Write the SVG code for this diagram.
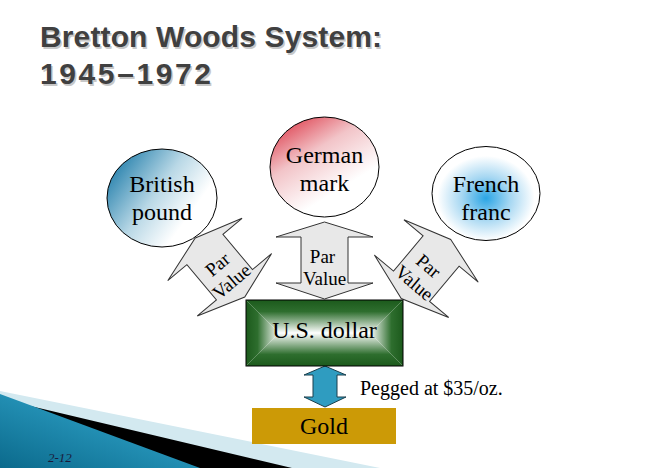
<svg xmlns="http://www.w3.org/2000/svg" width="648" height="468" viewBox="0 0 648 468">
  <defs>
    <style>
      .title { font-family: "Liberation Sans", Arial, sans-serif; font-weight: bold; font-size: 30px; }
      .node { font-family: "Liberation Serif", "Times New Roman", serif; font-size: 24px; fill: #000; text-anchor: middle; }
      .lbl { font-family: "Liberation Serif", "Times New Roman", serif; font-size: 19px; fill: #000; text-anchor: middle; }
      .ell { stroke: #000; stroke-width: 1; }
      .par { fill: #e8e8e8; stroke: #333; stroke-width: 1; }
    </style>
    <linearGradient id="gBrit" x1="0" y1="0.3" x2="0.7" y2="0.75">
      <stop offset="0" stop-color="#2f86b0"/>
      <stop offset="0.55" stop-color="#b9d8e6"/>
      <stop offset="1" stop-color="#ffffff"/>
    </linearGradient>
    <linearGradient id="gGer" x1="0.1" y1="0" x2="0.6" y2="0.75">
      <stop offset="0" stop-color="#dc3444"/>
      <stop offset="0.5" stop-color="#f2c4c8"/>
      <stop offset="1" stop-color="#ffffff"/>
    </linearGradient>
    <radialGradient id="gFr" cx="0.5" cy="0.55" r="0.5">
      <stop offset="0" stop-color="#2aa5e5"/>
      <stop offset="0.45" stop-color="#a6d7f2"/>
      <stop offset="0.9" stop-color="#ffffff"/>
    </radialGradient>
    <linearGradient id="gTop" gradientUnits="userSpaceOnUse" x1="0" y1="300" x2="0" y2="333">
      <stop offset="0" stop-color="#1c5a1c"/>
      <stop offset="0.35" stop-color="#2e6e2e"/>
      <stop offset="1" stop-color="#ffffff"/>
    </linearGradient>
    <linearGradient id="gBot" gradientUnits="userSpaceOnUse" x1="0" y1="366" x2="0" y2="333">
      <stop offset="0" stop-color="#1c5a1c"/>
      <stop offset="0.35" stop-color="#2e6e2e"/>
      <stop offset="1" stop-color="#ffffff"/>
    </linearGradient>
    <linearGradient id="gLeft" gradientUnits="userSpaceOnUse" x1="246" y1="0" x2="279" y2="0">
      <stop offset="0" stop-color="#1c5a1c"/>
      <stop offset="0.35" stop-color="#2e6e2e"/>
      <stop offset="1" stop-color="#ffffff"/>
    </linearGradient>
    <linearGradient id="gRight" gradientUnits="userSpaceOnUse" x1="403" y1="0" x2="370" y2="0">
      <stop offset="0" stop-color="#1c5a1c"/>
      <stop offset="0.35" stop-color="#2e6e2e"/>
      <stop offset="1" stop-color="#ffffff"/>
    </linearGradient>
    <linearGradient id="gSwoosh" x1="0" y1="1" x2="1" y2="0">
      <stop offset="0" stop-color="#0b6a8c"/>
      <stop offset="0.6" stop-color="#2796bb"/>
      <stop offset="1" stop-color="#4cb4d4"/>
    </linearGradient>
    <path id="dblArrow" d="M0,-38.5 L48.5,-23.5 L23.5,-23.5 L23.5,22.5 L48.5,22.5 L0,38.5 L-48.5,22.5 L-23.5,22.5 L-23.5,-23.5 L-48.5,-23.5 Z"/>
  </defs>

  <rect width="648" height="468" fill="#ffffff"/>

  <!-- bottom-left swoosh decoration -->
  <g id="swoosh">
    <path d="M0,391 L380,468 L0,468 Z" fill="#d3e9f0"/>
    <path d="M22,404 L292,468 L0,468 L0,398 Z" fill="#000000"/>
    <path d="M0,394 L200,468 L0,468 Z" fill="url(#gSwoosh)"/>
  </g>

  <!-- title -->
  <g id="title">
    <text class="title" x="41.5" y="48.5" fill="#c8c8c8" textLength="342">Bretton Woods System:</text>
    <text class="title" x="41.5" y="85.5" fill="#c8c8c8" textLength="171">1945–1972</text>
    <text class="title" x="40" y="47" fill="#404040" textLength="342">Bretton Woods System:</text>
    <text class="title" x="40" y="84" fill="#404040" textLength="171">1945–1972</text>
  </g>

  <!-- connectors -->
  <g id="connectors">
    <g transform="translate(220,267.5) rotate(-40)">
      <use href="#dblArrow" class="par"/>
      <text class="lbl" x="0" y="2.5">Par</text>
      <text class="lbl" x="0" y="24.5">Value</text>
    </g>
    <g transform="translate(324.5,260.5)">
      <use href="#dblArrow" class="par"/>
      <text class="lbl" x="-2" y="2.5">Par</text>
      <text class="lbl" x="0" y="24.5">Value</text>
    </g>
    <g transform="translate(426,269) rotate(40)">
      <use href="#dblArrow" class="par"/>
      <text class="lbl" x="0" y="2.5">Par</text>
      <text class="lbl" x="0" y="24.5">Value</text>
    </g>
    <path d="M325,366 L346,375 L337,375 L337,397 L346,397 L325,407 L304,397 L313,397 L313,375 L304,375 Z" fill="#2f9cc0" stroke="#1b3f4c" stroke-width="1"/>
    <text x="360" y="395" font-family="'Liberation Serif', 'Times New Roman', serif" font-size="20" fill="#000">Pegged at $35/oz.</text>
  </g>

  <!-- nodes -->
  <g id="british-pound">
    <ellipse class="ell" cx="162" cy="198" rx="55" ry="49" fill="url(#gBrit)"/>
    <text class="node" x="162" y="192">British</text>
    <text class="node" x="162" y="220">pound</text>
  </g>
  <g id="german-mark">
    <ellipse class="ell" cx="324.5" cy="167" rx="54.5" ry="50" fill="url(#gGer)"/>
    <text class="node" x="324.5" y="163">German</text>
    <text class="node" x="324.5" y="191">mark</text>
  </g>
  <g id="french-franc">
    <ellipse class="ell" cx="486" cy="193.5" rx="54" ry="47" fill="url(#gFr)"/>
    <text class="node" x="486" y="192">French</text>
    <text class="node" x="486" y="220">franc</text>
  </g>
  <g id="us-dollar">
    <path d="M246,300 L403,300 L370,333 L279,333 Z" fill="url(#gTop)"/>
    <path d="M246,366 L403,366 L370,333 L279,333 Z" fill="url(#gBot)"/>
    <path d="M246,300 L279,333 L246,366 Z" fill="url(#gLeft)"/>
    <path d="M403,300 L370,333 L403,366 Z" fill="url(#gRight)"/>
    <rect x="246" y="300" width="157" height="66" fill="none" stroke="#000" stroke-width="1"/>
    <text class="node" x="324.5" y="338">U.S. dollar</text>
  </g>
  <g id="gold">
    <rect x="252" y="408" width="144" height="36" fill="#cc9a06"/>
    <text class="node" x="324" y="434">Gold</text>
  </g>

  <text x="48" y="462" font-family="'Liberation Serif', 'Times New Roman', serif" font-style="italic" font-size="13" fill="#1a1a3a">2-12</text>
</svg>
